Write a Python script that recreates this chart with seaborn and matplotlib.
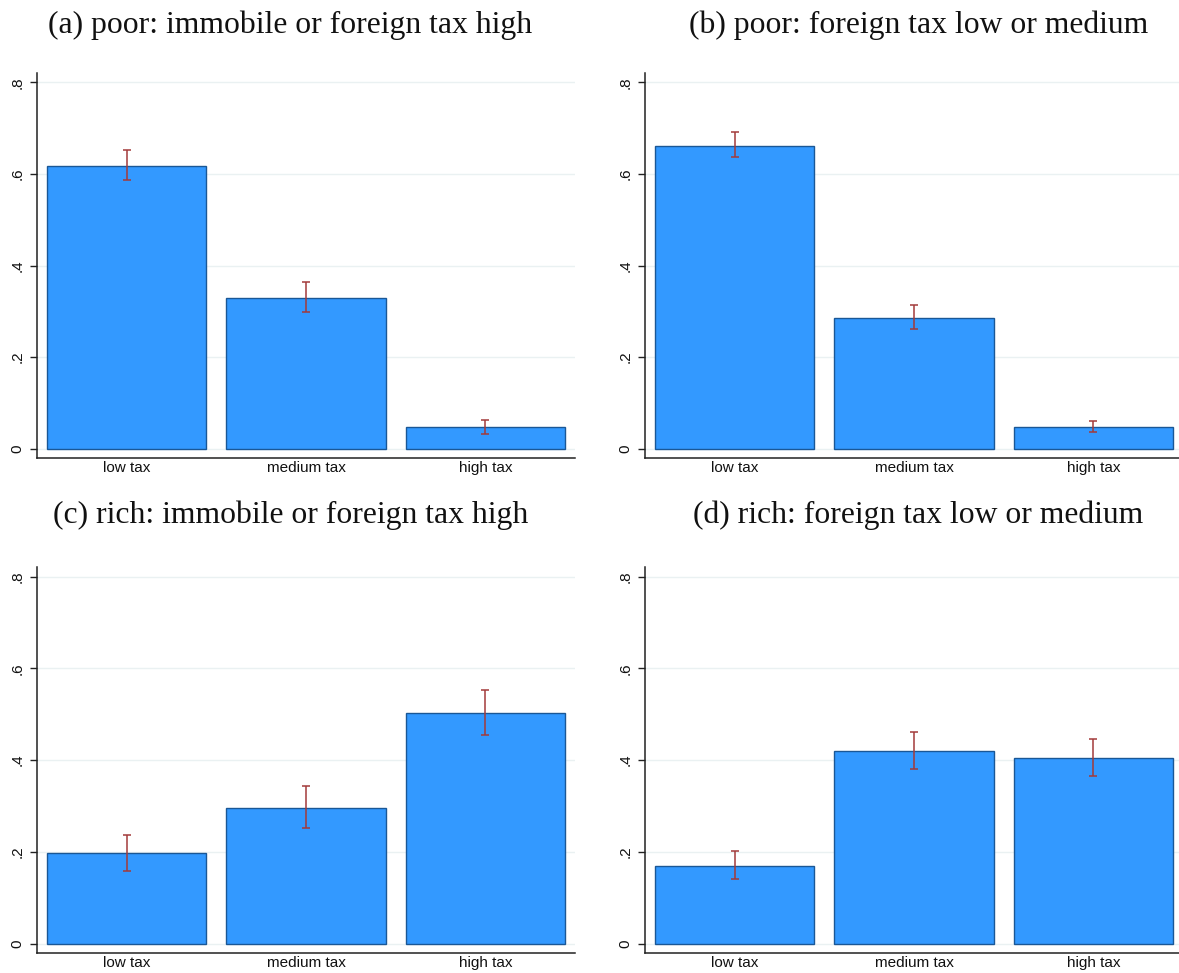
import numpy as np
import pandas as pd
import matplotlib
matplotlib.use("Agg")
import matplotlib.pyplot as plt
import seaborn as sns

# Share of respondents choosing each tax option, with 95% confidence bounds
categories = ["low tax", "medium tax", "high tax"]

titles = [
    "(a) poor: immobile or foreign tax high",
    "(b) poor: foreign tax low or medium",
    "(c) rich: immobile or foreign tax high",
    "(d) rich: foreign tax low or medium",
]

share_a = [0.618, 0.330, 0.048]
lower_a = [0.586, 0.299, 0.033]
upper_a = [0.653, 0.365, 0.063]

share_b = [0.662, 0.286, 0.048]
lower_b = [0.636, 0.262, 0.036]
upper_b = [0.691, 0.313, 0.061]

share_c = [0.197, 0.296, 0.503]
lower_c = [0.159, 0.252, 0.455]
upper_c = [0.237, 0.343, 0.552]

share_d = [0.170, 0.420, 0.405]
lower_d = [0.140, 0.381, 0.366]
upper_d = [0.202, 0.462, 0.446]

yticks = [0, 0.2, 0.4, 0.6, 0.8]
ytick_labels = ["0", ".2", ".4", ".6", ".8"]

panels = [
    (share_a, lower_a, upper_a),
    (share_b, lower_b, upper_b),
    (share_c, lower_c, upper_c),
    (share_d, lower_d, upper_d),
]

sns.set_theme(style="white")
plt.rcParams["font.family"] = ["Liberation Sans", "DejaVu Sans"]

W, H = 1179, 973
fig = plt.figure(figsize=(W / 100, H / 100), dpi=100)
fig.patch.set_facecolor("white")

# axes rectangles in pixels: left, top, right, bottom
rects = [
    (37, 72.7, 575, 458.3),
    (645, 72.7, 1183, 458.3),
    (37, 567, 575, 953.3),
    (645, 567, 1183, 953.3),
]
# title anchors in pixels: horizontal centre, baseline
title_pos = [(290, 33), (919, 33), (291, 523), (918, 523)]

bar_fill = "#3399ff"
bar_edge = "#1a5796"
err_color = "#a33b3b"
grid_color = "#eaf1f2"
spine_color = "#222222"

for (share, lo, hi), (l, t, r, b), title, (tx, ty) in zip(panels, rects, titles, title_pos):
    ax = fig.add_axes([l / W, 1 - b / H, (r - l) / W, (b - t) / H])
    df = pd.DataFrame({"option": categories, "share": share})
    sns.barplot(data=df, x="option", y="share", order=categories, ax=ax,
                color=bar_fill, saturation=1, width=0.89, errorbar=None,
                edgecolor=bar_edge, linewidth=1.0, zorder=2)
    share_arr = np.array(share)
    yerr = np.vstack([share_arr - np.array(lo), np.array(hi) - share_arr])
    ax.errorbar(np.arange(len(categories)), share_arr, yerr=yerr, fmt="none",
                ecolor=err_color, elinewidth=1.1, capsize=3.2, capthick=1.1,
                zorder=3)

    ax.set_xlim(-0.5, 2.5)
    ax.set_ylim(-0.021, 0.821)
    ax.set_yticks(yticks)
    ax.set_yticklabels(ytick_labels, rotation=90, va="center", fontsize=11,
                       color="#111111")
    ax.tick_params(axis="y", direction="out", length=5, width=1.0,
                   color=spine_color, pad=4, left=True)
    ax.tick_params(axis="x", length=0, pad=2, labelsize=11, labelcolor="#111111")
    ax.set_xlabel("")
    ax.set_ylabel("")
    for yv in yticks:
        ax.axhline(yv, color=grid_color, linewidth=1.0, zorder=0)
    for side in ("top", "right"):
        ax.spines[side].set_visible(False)
    for side in ("left", "bottom"):
        ax.spines[side].set_color(spine_color)
        ax.spines[side].set_linewidth(1.1)

    fig.text(tx / W, 1 - ty / H, title, ha="center", va="baseline",
             fontsize=22.8, family=["Liberation Serif", "DejaVu Serif"],
             color="#111111")

fig.savefig("out.png", dpi=100, facecolor="white")
